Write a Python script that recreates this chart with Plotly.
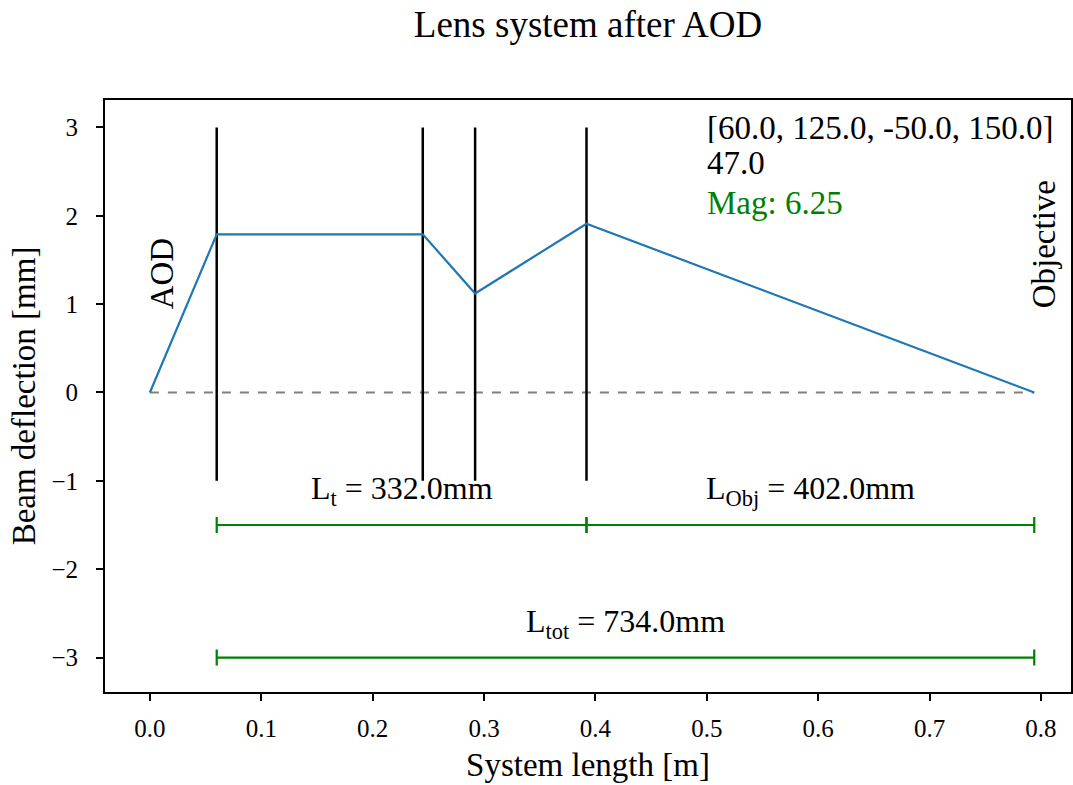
import plotly.graph_objects as go

# Optical layout (positions in metres, deflection in mm)
focal_lengths = [60.0, 125.0, -50.0, 150.0]
lens_gap = 47.0
magnification = 6.25

lens_x = [0.06, 0.245, 0.292, 0.392]
lens_y_span = [-1.0, 3.0]

beam_x = [0.0, 0.06, 0.245, 0.292, 0.392, 0.794]
beam_y = [0.0, 1.79, 1.79, 1.12, 1.91, 0.0]

axis_x = [0.0, 0.794]

# Distance markers: (start, end, height, label)
seg_start = [0.06, 0.392, 0.06]
seg_end = [0.392, 0.794, 0.794]
seg_y = [-1.5, -1.5, -3.0]
seg_label = ["L<sub>t</sub> = 332.0mm", "L<sub>Obj</sub> = 402.0mm", "L<sub>tot</sub> = 734.0mm"]
label_y = [-1.11, -1.11, -2.61]

x_ticks = [0.0, 0.1, 0.2, 0.3, 0.4, 0.5, 0.6, 0.7, 0.8]
y_ticks = [-3, -2, -1, 0, 1, 2, 3]

FONT = "Liberation Serif"
GREEN = "green"
TXT = 33

fig = go.Figure()

# optical axis
fig.add_trace(go.Scatter(x=axis_x, y=[0, 0], mode="lines",
                         line=dict(color="gray", width=2, dash="dash"),
                         hoverinfo="skip"))

# lenses
for lx in lens_x:
    fig.add_trace(go.Scatter(x=[lx, lx], y=lens_y_span, mode="lines",
                             line=dict(color="black", width=2.5),
                             hoverinfo="skip"))

# beam path
fig.add_trace(go.Scatter(x=beam_x, y=beam_y, mode="lines",
                         line=dict(color="#1f77b4", width=2.2)))

# distance bars drawn as horizontal error bars
for s, e, y, lab, ly in zip(seg_start, seg_end, seg_y, seg_label, label_y):
    mid = (s + e) / 2
    half = (e - s) / 2
    fig.add_trace(go.Scatter(
        x=[mid], y=[y], mode="markers",
        marker=dict(size=0.1, color=GREEN, opacity=0),
        error_x=dict(type="data", array=[half], color=GREEN,
                     thickness=2.2, width=8),
        hoverinfo="skip"))
    fig.add_annotation(x=mid, y=ly, text=lab, showarrow=False,
                       xanchor="center", yanchor="middle",
                       font=dict(family=FONT, size=32, color="black"))

# lens list, spacing and magnification
fig.add_annotation(x=0.4985, y=2.99, text=str(focal_lengths), showarrow=False,
                   xanchor="left", yanchor="middle", height=30,
                   font=dict(family=FONT, size=TXT, color="black"))
fig.add_annotation(x=0.4985, y=2.6, text=str(lens_gap), showarrow=False,
                   xanchor="left", yanchor="middle", height=30,
                   font=dict(family=FONT, size=TXT, color="black"))
fig.add_annotation(x=0.4985, y=2.15, text=f"Mag: {magnification}", showarrow=False,
                   xanchor="left", yanchor="middle",
                   font=dict(family=FONT, size=TXT, color=GREEN))
fig.add_annotation(x=0.011, y=1.35, text="AOD", showarrow=False, textangle=-90,
                   xanchor="center", yanchor="middle",
                   font=dict(family=FONT, size=TXT, color="black"))
fig.add_annotation(x=0.803, y=1.68, text="Objective", showarrow=False, textangle=-90,
                   xanchor="center", yanchor="middle",
                   font=dict(family=FONT, size=TXT, color="black"))

fig.update_layout(
    width=1073, height=785,
    margin=dict(l=105, r=0, t=100, b=93),
    paper_bgcolor="white", plot_bgcolor="white",
    showlegend=False,
    font=dict(family=FONT, color="black"),
    title=dict(text="Lens system after AOD", x=0.5, xref="paper", xanchor="center",
               y=0.969, yanchor="middle", font=dict(family=FONT, size=37, color="black")),
)

fig.update_xaxes(
    range=[-0.0403, 0.827], tickvals=x_ticks,
    ticktext=[f"{v:.1f}" for v in x_ticks],
    showgrid=False, zeroline=False,
    showline=True, linecolor="black", linewidth=2, mirror=True,
    ticks="outside", ticklen=7, tickwidth=1.6, tickcolor="black",
    ticklabelstandoff=6,
    tickfont=dict(family=FONT, size=25, color="black"),
    title=dict(text="System length [m]", standoff=12,
               font=dict(family=FONT, size=33, color="black")),
)
fig.update_yaxes(
    range=[-3.39, 3.31], tickvals=y_ticks,
    showgrid=False, zeroline=False,
    showline=True, linecolor="black", linewidth=2, mirror=True,
    ticks="outside", ticklen=7, tickwidth=1.6, tickcolor="black",
    ticklabelstandoff=13,
    tickfont=dict(family=FONT, size=25, color="black"),
    title=dict(text="Beam deflection [mm]", standoff=6,
               font=dict(family=FONT, size=33, color="black")),
)

fig.write_html("out.html")
